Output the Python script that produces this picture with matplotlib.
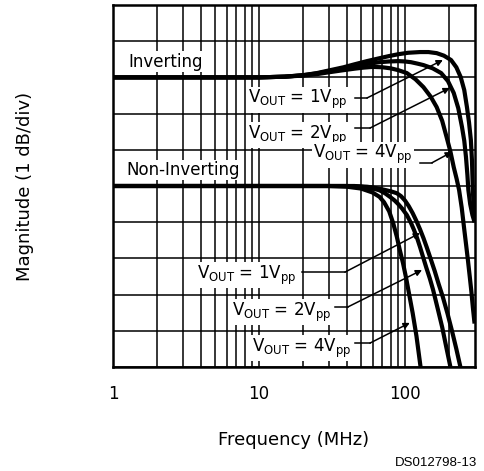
import numpy as np
import matplotlib
matplotlib.use('Agg')
import matplotlib.pyplot as plt

# frequency in MHz, magnitude in divisions (1 dB/div), top of chart = 10
inv_1v_f = [1, 10, 15, 20, 25, 30, 38, 45, 55, 67, 78, 90, 105, 127, 145, 165, 185, 207,
            225, 241, 255, 266, 275, 283, 288, 292, 296, 300]
inv_1v_m = [8, 8, 8.02, 8.06, 8.12, 8.19, 8.28, 8.36, 8.45, 8.53, 8.59, 8.64, 8.68, 8.70,
            8.70, 8.67, 8.6, 8.48, 8.28, 8.01, 7.65, 7.18, 6.75, 6.27, 5.7, 4.89, 4.4, 4.0]
inv_2v_f = [1, 10, 15, 20, 25, 30, 38, 45, 55, 67, 78, 90, 100, 110, 122, 134, 155, 177,
            197, 216, 232, 246, 255, 262, 268, 272, 280, 290, 300]
inv_2v_m = [8, 8, 8.02, 8.06, 8.11, 8.17, 8.25, 8.31, 8.37, 8.42, 8.44, 8.45, 8.44, 8.42,
            8.38, 8.34, 8.25, 8.12, 7.9, 7.57, 7.15, 6.63, 6.25, 5.80, 5.3, 4.89, 4.5, 4.2, 4.0]
inv_4v_f = [1, 10, 15, 20, 25, 30, 38, 45, 52, 60, 70, 80, 90, 103, 118, 134, 150, 165,
            180, 193, 205, 216, 226, 235, 245, 255, 263, 270, 278, 285, 292, 300]
inv_4v_m = [8, 8, 8.02, 8.05, 8.09, 8.14, 8.2, 8.24, 8.27, 8.29, 8.28, 8.25, 8.2, 8.12,
            7.95, 7.73, 7.47, 7.18, 6.8, 6.35, 5.95, 5.52, 5.2, 4.89, 4.4, 3.8, 3.35, 2.96,
            2.5, 2.1, 1.65, 1.2]

non_1v_f = [1, 10, 30, 45, 55, 60, 68, 75, 82, 88, 94, 100, 106, 113, 120, 127, 134, 141,
            150, 160, 170, 182, 196, 210, 225, 240]
non_1v_m = [5, 5, 5, 5, 4.98, 4.96, 4.92, 4.88, 4.84, 4.8, 4.72, 4.6, 4.45, 4.25, 4.03,
            3.8, 3.56, 3.31, 2.99, 2.65, 2.3, 1.93, 1.47, 1.0, 0.5, 0.0]
non_2v_f = [1, 10, 30, 40, 50, 55, 62, 67, 73, 79, 85, 90, 96, 103, 110, 115, 121, 127,
            134, 140, 148, 156, 168, 180, 192, 205]
non_2v_m = [5, 5, 5, 5, 4.98, 4.96, 4.92, 4.88, 4.8, 4.70, 4.6, 4.5, 4.37, 4.2, 3.98,
            3.8, 3.57, 3.31, 3.0, 2.75, 2.45, 2.13, 1.6, 1.1, 0.55, 0.0]
non_4v_f = [1, 10, 30, 40, 50, 60, 67, 72, 78, 83, 88, 92, 97, 102, 107, 113, 120, 128]
non_4v_m = [5, 5, 5, 4.98, 4.93, 4.82, 4.70, 4.55, 4.3, 3.98, 3.6, 3.25, 2.87, 2.45,
            2.0, 1.49, 0.85, 0.0]

xticks = [1, 10, 100]
xtick_labels = ['1', '10', '100']

# label text, text anchor (left, centre), leader start, knee, arrow tip
labels = [
    ('1', (8.41, 7.38), (45.4, 7.43), (54.9, 7.43), (182, 8.48)),
    ('2', (8.41, 6.41), (45.4, 6.60), (57.6, 6.60), (203, 7.71)),
    ('4', (23.4, 5.86), (127, 5.64), (153, 5.64), (210, 5.94)),
    ('1', (3.76, 2.54), (19.7, 2.62), (38.8, 2.62), (127, 3.70)),
    ('2', (6.53, 1.52), (33.2, 1.66), (40.7, 1.66), (131, 2.68)),
    ('4', (8.96, 0.52), (45.4, 0.66), (57.6, 0.66), (108, 1.22)),
]

fig = plt.figure(figsize=(4.84, 4.71), dpi=100)
ax = fig.add_axes([0.2335, 0.2208, 0.747, 0.7686])

ax.set_xscale('log')
ax.set_xlim(1, 300)
ax.set_ylim(0, 10)

ax.set_xticks(xticks)
ax.set_xticklabels(xtick_labels, fontsize=12)
ax.set_xticks([2, 3, 4, 5, 6, 7, 8, 9, 20, 30, 40, 50, 60, 70, 80, 90, 200], minor=True)
ax.set_yticks(np.arange(0, 11, 1))
ax.set_yticklabels([])
ax.tick_params(axis='both', which='both', length=0, pad=13)
ax.grid(True, which='both', color='black', linewidth=1.1)
ax.set_axisbelow(True)
for s in ax.spines.values():
    s.set_linewidth(1.8)

for f, m in [(inv_1v_f, inv_1v_m), (inv_2v_f, inv_2v_m), (inv_4v_f, inv_4v_m),
             (non_1v_f, non_1v_m), (non_2v_f, non_2v_m), (non_4v_f, non_4v_m)]:
    ax.plot(f, m, color='black', linewidth=3, zorder=3, solid_capstyle='butt',
            solid_joinstyle='round')

box = dict(facecolor='white', edgecolor='none', pad=1.0)
ax.text(1.27, 8.43, 'Inverting', fontsize=12, va='center', ha='left', bbox=box, zorder=4)
ax.text(1.23, 5.44, 'Non-Inverting', fontsize=12, va='center', ha='left', bbox=box, zorder=4)

for v, txy, start, knee, tip in labels:
    ax.text(txy[0], txy[1], r'V$_{\mathregular{OUT}}$ = ' + v + r'V$_{\mathregular{pp}}$',
            fontsize=12, va='center', ha='left', bbox=box, zorder=4)
    ax.plot([start[0], knee[0]], [start[1], knee[1]], color='black', linewidth=1.1, zorder=5)
    ax.annotate('', xy=tip, xytext=knee,
                arrowprops=dict(arrowstyle='-|>', color='black', lw=1.1,
                                mutation_scale=9, shrinkA=0, shrinkB=0), zorder=5)

ax.set_xlabel('Frequency (MHz)', fontsize=13, labelpad=20)
ax.set_ylabel('Magnitude (1 dB/div)', fontsize=13, labelpad=44)
fig.text(0.985, 0.004, 'DS012798-13', fontsize=9.5, family='Liberation Sans', ha='right', va='bottom')

fig.savefig('out.png', dpi=100)
